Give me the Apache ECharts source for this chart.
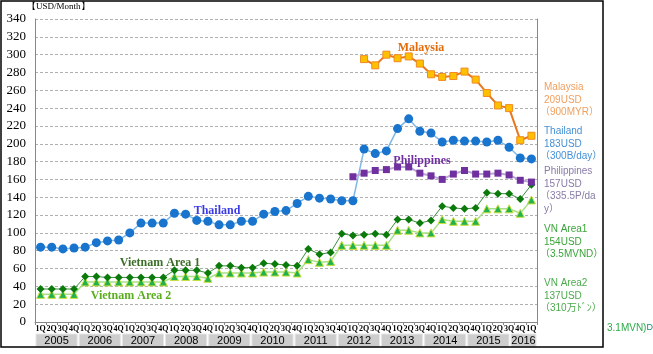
<!DOCTYPE html>
<html lang="ja">
<head>
    <meta charset="UTF-8">
    <title>Wages</title>
    <script src="https://cdn.jsdelivr.net/npm/echarts@6/dist/echarts.min.js"></script>
    <style>
        html, body { margin: 0; padding: 0; background: #fff; }
        #main { width: 653px; height: 354px; }
    </style>
</head>
<body>
<div id="main"></div>
<script type="text/javascript">
    // quarters 2005Q1 .. 2016Q1
    var years = ['2005', '2006', '2007', '2008', '2009', '2010', '2011', '2012', '2013', '2014', '2015', '2016'];
    var quarters = [];
    for (var y = 0; y < 11; y++) {
        quarters.push('1Q', '2Q', '3Q', '4Q');
    }
    quarters.push('1Q');

    var yTicks = { min: 0, max: 340, interval: 20 };

    var thailand = [84, 84, 82, 83, 84, 89, 91, 92, 100, 111, 111, 111, 122, 121, 114, 113, 109,
        109, 113, 113, 121, 124, 125, 133, 141, 139, 138, 136, 136,
        194, 189, 192, 217, 228, 214, 212, 202, 204, 203, 203, 202, 204, 196, 184, 183];
    var malaysia = [null, null, null, null, null, null, null, null, null, null, null, null, null, null, null,
        null, null, null, null, null, null, null, null, null, null, null, null, null, null,
        295, 288, 300, 296, 298, 290, 278, 275, 276, 281, 272, 257, 243, 240, 204, 209];
    var philippines = [null, null, null, null, null, null, null, null, null, null, null, null, null, null,
        null, null, null, null, null, null, null, null, null, null, null, null, null, null,
        163, 167, 170, 171, 174, 174, 167, 164, 160, 166, 170, 166, 166, 167, 165, 159, 157];
    var vnArea1 = [37, 37, 37, 37, 51, 51, 50, 50, 50, 50, 50, 50, 58, 58, 58, 55, 63, 63, 61, 61,
        66, 65, 64, 63, 82, 76, 78, 99, 97, 98, 99, 98, 115, 115, 111, 114, 130, 128, 127, 128,
        145, 144, 144, 138, 154];
    var vnArea2 = [31, 31, 31, 31, 45, 45, 45, 45, 45, 45, 45, 45, 51, 51, 51, 49, 55, 55, 55, 55,
        56, 56, 56, 55, 70, 67, 68, 86, 86, 86, 86, 86, 103, 103, 100, 100, 115, 113, 113, 113,
        127, 127, 127, 122, 137];

    // right side notes
    var notes = [
        { lines: ['Malaysia', '209USD', '（900MYR）'], y: 87, color: '#f0a060' },
        { lines: ['Thailand', '183USD', '（300B/day）'], y: 131, color: '#4590d6' },
        { lines: ['Philippines', '157USD', '（335.5P/da', 'y）'], y: 171, color: '#8a7ba8' },
        { lines: ['VN Area1', '154USD', '（3.5MVND）'], y: 229, color: '#3aa43a' },
        { lines: ['VN Area2', '137USD', '（310万ﾄﾞﾝ）'], y: 283, color: '#4caa4c' }
    ];

    var myChart = echarts.init(document.getElementById('main'));

    var serif = '"Liberation Serif", "Times New Roman", serif';
    var sans = '"Liberation Sans", Arial, "Noto Sans CJK JP", sans-serif';

    var option = {
        animation: false,
        grid: { left: 35, right: 116, top: 19, bottom: 32 },
        xAxis: {
            type: 'category',
            data: quarters,
            boundaryGap: true,
            axisLine: { lineStyle: { color: '#888' } },
            axisTick: { show: true, length: 3, lineStyle: { color: '#888' } },
            axisLabel: { interval: 0, margin: 3, fontSize: 8, fontWeight: 'bold', fontFamily: serif, color: '#000' }
        },
        yAxis: [{
            type: 'value',
            min: yTicks.min,
            max: yTicks.max,
            interval: yTicks.interval,
            axisLine: { show: true, lineStyle: { color: '#888' } },
            axisTick: { show: false },
            axisLabel: { fontSize: 13, fontFamily: serif, color: '#000', margin: 9 },
            splitLine: { lineStyle: { color: '#b0b0b0', type: [3, 2] } }
        }, {
            type: 'value',
            position: 'right',
            min: yTicks.min,
            max: yTicks.max,
            interval: yTicks.interval,
            axisLine: { show: true, lineStyle: { color: '#888' } },
            axisTick: { show: false },
            axisLabel: { show: false },
            splitLine: { show: false }
        }],
        series: [{
            name: 'Thailand', type: 'line', data: thailand,
            symbol: 'circle', symbolSize: 9, showAllSymbol: true,
            lineStyle: { color: '#7db8e8', width: 1.5 },
            itemStyle: { color: '#1874cd' }
        }, {
            name: 'Vietnam Area 2', type: 'line', data: vnArea2,
            symbol: 'triangle', symbolSize: 8, showAllSymbol: true,
            lineStyle: { color: '#a8e08a', width: 1.5 },
            itemStyle: { color: '#22b14c', borderColor: '#c8e040', borderWidth: 1 }
        }, {
            name: 'Vietnam Area 1', type: 'line', data: vnArea1,
            symbol: 'diamond', symbolSize: 8, showAllSymbol: true,
            lineStyle: { color: '#3d8b3d', width: 1 },
            itemStyle: { color: '#0a7a0a' }
        }, {
            name: 'Philippines', type: 'line', data: philippines,
            symbol: 'rect', symbolSize: 7, showAllSymbol: true,
            lineStyle: { color: '#baa6d2', width: 2 },
            itemStyle: { color: '#7030a0' }
        }, {
            name: 'Malaysia', type: 'line', data: malaysia,
            symbol: 'rect', symbolSize: 7, showAllSymbol: true,
            lineStyle: { color: '#e8781e', width: 2 },
            itemStyle: { color: '#ffc000', borderColor: '#f08a20', borderWidth: 1 }
        }]
    };
    myChart.setOption(option);

    // year boxes under the quarter labels (the last year only has a short box)
    var graphics = [];
    var half = (myChart.convertToPixel({ xAxisIndex: 0 }, 1) - myChart.convertToPixel({ xAxisIndex: 0 }, 0)) / 2;
    var left = myChart.convertToPixel({ xAxisIndex: 0 }, 0) - half;
    var right = myChart.convertToPixel({ xAxisIndex: 0 }, quarters.length - 1) + half;
    var base = myChart.convertToPixel({ yAxisIndex: 0 }, 0);
    var unit = (right - left) / ((years.length - 1) * 4 + 2.5);
    for (var k = 0; k < years.length; k++) {
        var x0 = left + k * 4 * unit;
        var x1 = k === years.length - 1 ? right : x0 + 4 * unit;
        graphics.push({
            type: 'rect',
            shape: { x: x0 + 1, y: base + 12, width: x1 - x0 - 2, height: 13 },
            style: { fill: '#cdcdcd', stroke: '#e6e6e6', lineWidth: 1 }
        });
        graphics.push({
            type: 'text', x: (x0 + x1) / 2, y: base + 19,
            style: { text: years[k], fontSize: 11, fontFamily: sans, fill: '#000', align: 'center', verticalAlign: 'middle' }
        });
    }

    // series names
    var names = [
        { text: 'Malaysia', x: 421, y: 48, color: '#e46c0a' },
        { text: 'Thailand', x: 217, y: 211, color: '#3a3ae6' },
        { text: 'Philippines', x: 422, y: 161, color: '#7030a0' },
        { text: 'Vietnam Area 1', x: 160, y: 263, color: '#3b6e26' },
        { text: 'Vietnam Area 2', x: 131, y: 296, color: '#5aae1e' }
    ];
    names.forEach(function (n) {
        graphics.push({
            type: 'text', x: n.x, y: n.y, z: 20,
            style: { text: n.text, fontSize: 12, fontWeight: 'bold', fontFamily: serif, fill: n.color, align: 'center', verticalAlign: 'middle' }
        });
    });

    notes.forEach(function (n) {
        n.lines.forEach(function (line, i) {
            graphics.push({
                type: 'text', x: line.charAt(0) === '（' ? 540 : 544, y: n.y + i * 12.8,
                style: { text: line, fontSize: 10, fontFamily: sans, fill: n.color, align: 'left', verticalAlign: 'middle' }
            });
        });
    });

    graphics.push({
        type: 'text', x: 27, y: 7,
        style: { text: '【USD/Month】', fontSize: 9, fontFamily: serif, fill: '#000', verticalAlign: 'middle' }
    });
    graphics.push({
        type: 'text', x: 607, y: 328,
        style: {
            text: '{a|3.1MVN)}{b|D}',
            rich: {
                a: { fontSize: 10, fontFamily: sans, fill: '#2eaa4a' },
                b: { fontSize: 9, fontFamily: sans, fill: '#1a8a7a' }
            },
            verticalAlign: 'middle'
        }
    });
    graphics.push({
        type: 'rect',
        shape: { x: 1, y: 1, width: 602, height: 346 },
        style: { fill: 'none', stroke: '#000', lineWidth: 1.5 }
    });

    myChart.setOption({ graphic: graphics });
</script>
</body>
</html>
